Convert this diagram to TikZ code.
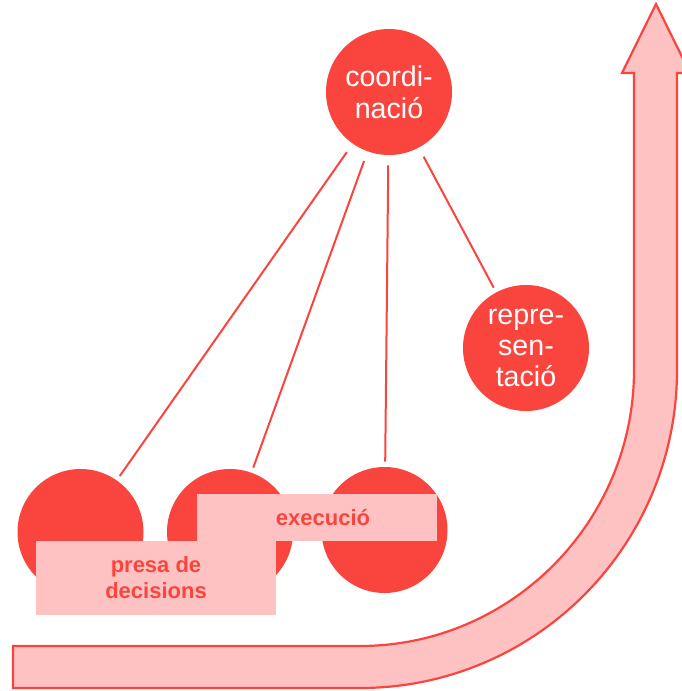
\documentclass[tikz,border=0pt]{standalone}
\usepackage{fontspec}
\setmainfont{Liberation Sans}
\definecolor{vermell}{RGB}{249,69,62}
\definecolor{rosa}{RGB}{255,194,194}

\begin{document}
\begin{tikzpicture}[x=0.5pt,y=-0.5pt,
    bola/.style={circle,fill=vermell,minimum size=63pt,inner sep=0pt,
      text=white,align=center,font=\fontsize{14.3}{15.5}\selectfont},
    caixa/.style={rectangle,fill=rosa,inner sep=0pt,minimum width=120pt,
      text=vermell,align=center,font=\bfseries\fontsize{11}{13}\selectfont},
    lligam/.style={draw=vermell,line width=1pt,shorten <=5pt,shorten >=2.5pt}]
  \useasboundingbox (0,0) rectangle (681,691);

  % Fletxa de fons
  \draw[vermell,line width=1.1pt,fill=rosa,line join=miter]
    (13,646) -- (360,646) .. controls (511,646) and (634,522) .. (634,370)
    -- (634,73) -- (622,73) -- (656,4) -- (690,73) -- (677,73) -- (677,370)
    .. controls (677,546) and (535,688) .. (360,688) -- (13,688) -- cycle;

  \node[bola,font=\fontsize{14.3}{16}\selectfont] (coord) at (389,92) {coordi-\\nació};
  \node[bola] (repr) at (526,348) {repre-\\sen-\\tació};
  \node[bola] (bola1) at (80.5,532) {};
  \node[bola] (bola2) at (230,532) {};
  \node[bola] (bola3) at (384.5,530) {};

  \draw[lligam] (coord) -- (bola1);
  \draw[lligam] (coord) -- (bola2);
  \draw[lligam] (coord) -- (bola3);
  \draw[lligam] (coord) -- (repr);

  % Caixes de text
  \node[caixa,minimum height=23.5pt] (exec) at (317,517.5) {\hspace*{6pt}execució};
  \node[caixa,minimum height=37pt] (presa) at (156,578) {presa de\\decisions};
\end{tikzpicture}
\end{document}
